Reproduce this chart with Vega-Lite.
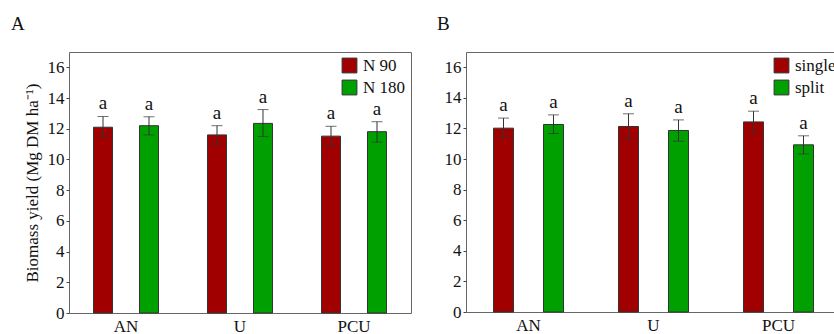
{
  "$schema": "https://vega.github.io/schema/vega-lite/v6.json",
  "padding": {"left": 10, "top": 14, "right": 0, "bottom": 0},
  "bounds": "flush",
  "spacing": 55,
  "datasets": {
    "panelA": [
      {"fert": "AN", "group": "N 90", "mean": 12.1, "lo": 11.5, "hi": 12.8, "sig": "a"},
      {"fert": "AN", "group": "N 180", "mean": 12.2, "lo": 11.6, "hi": 12.78, "sig": "a"},
      {"fert": "U", "group": "N 90", "mean": 11.6, "lo": 11.0, "hi": 12.2, "sig": "a"},
      {"fert": "U", "group": "N 180", "mean": 12.35, "lo": 11.5, "hi": 13.25, "sig": "a"},
      {"fert": "PCU", "group": "N 90", "mean": 11.52, "lo": 10.9, "hi": 12.16, "sig": "a"},
      {"fert": "PCU", "group": "N 180", "mean": 11.81, "lo": 11.13, "hi": 12.46, "sig": "a"}
    ],
    "panelB": [
      {"fert": "AN", "group": "single", "mean": 12.02, "lo": 11.41, "hi": 12.68, "sig": "a"},
      {"fert": "AN", "group": "split", "mean": 12.26, "lo": 11.67, "hi": 12.89, "sig": "a"},
      {"fert": "U", "group": "single", "mean": 12.13, "lo": 11.32, "hi": 12.96, "sig": "a"},
      {"fert": "U", "group": "split", "mean": 11.87, "lo": 11.17, "hi": 12.56, "sig": "a"},
      {"fert": "PCU", "group": "single", "mean": 12.43, "lo": 11.74, "hi": 13.13, "sig": "a"},
      {"fert": "PCU", "group": "split", "mean": 10.93, "lo": 10.34, "hi": 11.52, "sig": "a"}
    ]
  },
  "hconcat": [
    {
      "width": 342,
      "height": 261,
      "data": {"name": "panelA"},
      "title": {"text": "A", "anchor": "start", "frame": "group", "dx": -58, "offset": 18, "font": "Liberation Serif"},
      "encoding": {
        "x": {"field": "fert", "type": "nominal", "sort": ["AN", "U", "PCU"],
              "scale": {"type": "band", "paddingInner": 0, "paddingOuter": 0},
              "axis": {"title": null, "labelAngle": 0, "ticks": false, "domain": false, "labelPadding": 5, "labelFont": "Liberation Serif", "labelFontSize": 17}},
        "xOffset": {"field": "group", "type": "nominal", "sort": ["N 90", "N 180"],
                    "scale": {"type": "band", "paddingInner": 0.587, "paddingOuter": 0.533}},
        "y": {"field": "mean", "type": "quantitative",
              "scale": {"domain": [0, 17], "nice": false},
              "axis": {"title": "Biomass yield (Mg DM ha⁻¹)", "values": [0, 2, 4, 6, 8, 10, 12, 14, 16], "labelOverlap": false, "grid": false, "domain": false, "tickSize": 3, "titlePadding": 6,
                       "labelFont": "Liberation Serif", "labelFontSize": 17, "titleFont": "Liberation Serif", "titleFontSize": 17}}
      },
      "layer": [
        {
          "mark": {"type": "bar", "stroke": "#333", "strokeWidth": 1},
          "encoding": {
            "color": {"field": "group", "type": "nominal", "sort": ["N 90", "N 180"],
                      "scale": {"range": ["#a10000", "#00a000"]},
                      "legend": {"title": null, "orient": "top-right", "offset": 5, "labelFont": "Liberation Serif", "labelFontSize": 17}}
          }
        },
        {
          "mark": {"type": "rule", "color": "#333", "strokeWidth": 1},
          "encoding": {"y": {"field": "lo", "type": "quantitative"}, "y2": {"field": "hi"}}
        },
        {
          "mark": {"type": "tick", "orient": "horizontal", "size": 11, "thickness": 1, "color": "#333"},
          "encoding": {"y": {"field": "lo", "type": "quantitative"}}
        },
        {
          "mark": {"type": "tick", "orient": "horizontal", "size": 11, "thickness": 1, "color": "#333"},
          "encoding": {"y": {"field": "hi", "type": "quantitative"}}
        },
        {
          "mark": {"type": "text", "baseline": "alphabetic", "dy": -7, "fontSize": 19, "color": "#111", "font": "Liberation Serif"},
          "encoding": {"y": {"field": "hi", "type": "quantitative"}, "text": {"field": "sig"}}
        }
      ]
    },
    {
      "width": 375,
      "height": 260,
      "data": {"name": "panelB"},
      "title": {"text": "B", "anchor": "start", "frame": "group", "dx": -29, "offset": 18, "font": "Liberation Serif"},
      "encoding": {
        "x": {"field": "fert", "type": "nominal", "sort": ["AN", "U", "PCU"],
              "scale": {"type": "band", "paddingInner": 0, "paddingOuter": 0},
              "axis": {"title": null, "labelAngle": 0, "ticks": false, "domain": false, "labelPadding": 5, "labelFont": "Liberation Serif", "labelFontSize": 17}},
        "xOffset": {"field": "group", "type": "nominal", "sort": ["single", "split"],
                    "scale": {"type": "band", "paddingInner": 0.6, "paddingOuter": 0.55}},
        "y": {"field": "mean", "type": "quantitative",
              "scale": {"domain": [0, 17], "nice": false},
              "axis": {"title": null, "values": [0, 2, 4, 6, 8, 10, 12, 14, 16], "labelOverlap": false, "grid": false, "domain": false, "tickSize": 3,
                       "labelFont": "Liberation Serif", "labelFontSize": 17}}
      },
      "layer": [
        {
          "mark": {"type": "bar", "stroke": "#333", "strokeWidth": 1},
          "encoding": {
            "color": {"field": "group", "type": "nominal", "sort": ["single", "split"],
                      "scale": {"range": ["#a10000", "#00a000"]},
                      "legend": {"title": null, "orient": "top-right", "offset": 5, "labelFont": "Liberation Serif", "labelFontSize": 17}}
          }
        },
        {
          "mark": {"type": "rule", "color": "#333", "strokeWidth": 1},
          "encoding": {"y": {"field": "lo", "type": "quantitative"}, "y2": {"field": "hi"}}
        },
        {
          "mark": {"type": "tick", "orient": "horizontal", "size": 11, "thickness": 1, "color": "#333"},
          "encoding": {"y": {"field": "lo", "type": "quantitative"}}
        },
        {
          "mark": {"type": "tick", "orient": "horizontal", "size": 11, "thickness": 1, "color": "#333"},
          "encoding": {"y": {"field": "hi", "type": "quantitative"}}
        },
        {
          "mark": {"type": "text", "baseline": "alphabetic", "dy": -7, "fontSize": 19, "color": "#111", "font": "Liberation Serif"},
          "encoding": {"y": {"field": "hi", "type": "quantitative"}, "text": {"field": "sig"}}
        }
      ]
    }
  ],
  "resolve": {"scale": {"color": "independent", "x": "independent", "xOffset": "independent", "y": "independent"},
              "legend": {"color": "independent"}},
  "config": {
    "font": "Liberation Serif",
    "view": {"stroke": "#666", "strokeWidth": 1},
    "title": {"font": "Liberation Serif", "fontSize": 19, "fontWeight": "normal", "color": "#111"},
    "axis": {"labelFont": "Liberation Serif", "labelFontSize": 17, "labelColor": "#111",
             "titleFont": "Liberation Serif", "titleFontSize": 17, "titleFontWeight": "normal", "titleColor": "#111",
             "tickColor": "#444"},
    "legend": {"labelFont": "Liberation Serif", "labelFontSize": 17, "labelColor": "#111",
               "symbolType": "square", "symbolSize": 220, "symbolStrokeColor": "#333", "symbolStrokeWidth": 1,
               "symbolOpacity": 1, "rowPadding": 3, "padding": 0, "labelOffset": 5}
  }
}
